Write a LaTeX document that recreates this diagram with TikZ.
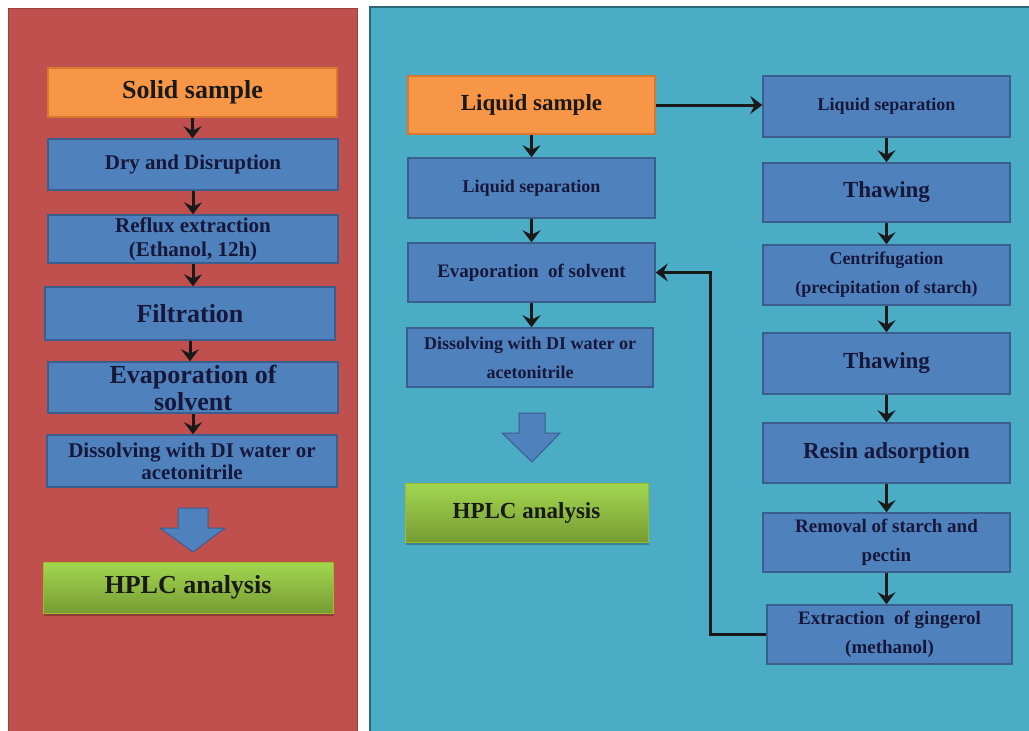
\documentclass[tikz,border=0pt]{standalone}
\usepackage{fontspec}
\setmainfont{Liberation Serif}
\usepackage{tikz}
\usetikzlibrary{arrows.meta,calc,shadows}
\definecolor{panelred}{HTML}{C0504D}
\definecolor{panelteal}{HTML}{4BACC6}
\definecolor{boxblue}{HTML}{4F81BD}
\definecolor{boxline}{HTML}{3A5F8E}
\definecolor{srcorange}{HTML}{F79646}
\definecolor{srcline}{HTML}{D8772E}
\definecolor{greentop}{HTML}{A2D750}
\definecolor{greenbot}{HTML}{779C33}
\definecolor{inkdark}{HTML}{17173A}
\tikzset{
  proc/.style={draw=boxline, fill=boxblue, line width=1.5pt, align=center,
               text=inkdark, inner sep=2pt},
  src/.style={draw=srcline, fill=srcorange, line width=1.5pt, align=center,
              text=black!90, inner sep=2pt},
  hplc/.style={draw=greenbot!70!yellow, top color=greentop, bottom color=greenbot,
               line width=0.8pt, align=center, text=black!90, inner sep=2pt,
               drop shadow={shadow xshift=1pt, shadow yshift=-3pt, fill=black, opacity=0.25}},
  flowarr/.style={-{Stealth[length=12pt,width=18pt,inset=4.5pt]}, line width=3pt, draw=black!90},
  bigarr/.style={fill=boxblue, draw=boxline, line width=1pt, line join=miter},
}

\begin{document}
\begin{tikzpicture}[x=1pt, y=-1pt]
  \useasboundingbox (0,0) rectangle (1029,731);
  \fill[white] (0,0) rectangle (1029,731);
  % LEFT: solid sample route
  \begin{scope}
    \draw[fill=panelred, draw=panelred!80!black, line width=1pt] (8,8) rectangle (357,740);
    \node[src, minimum width=289pt, minimum height=49pt, font=\bfseries\fontsize{26}{27}\selectfont]
      (lsolid) at (192.5,92.5) {Solid sample};
    \node[proc, minimum width=290pt, minimum height=51pt, font=\bfseries\fontsize{21}{22}\selectfont]
      (ldry) at (193,164.5) {Dry and Disruption};
    \node[proc, minimum width=290pt, minimum height=48pt, font=\bfseries\fontsize{21}{24}\selectfont]
      (lreflux) at (193,239) {Reflux extraction\\(Ethanol, 12h)};
    \node[proc, minimum width=290pt, minimum height=53pt, font=\bfseries\fontsize{26}{27}\selectfont]
      (lfilt) at (190,313.5) {Filtration};
    \node[proc, minimum width=290pt, minimum height=51pt, font=\bfseries\fontsize{26}{27}\selectfont]
      (levap) at (193,387.5) {Evaporation of\\solvent};
    \node[proc, minimum width=290pt, minimum height=52pt, font=\bfseries\fontsize{21}{22}\selectfont]
      (ldiss) at (192,461) {Dissolving with DI water or\\acetonitrile};
    \draw[bigarr] (178,508) -- (208,508) -- (208,528) -- (225,528) -- (193,552)
      -- (160,528) -- (178,528) -- cycle;
    \node[hplc, minimum width=290pt, minimum height=51pt, font=\bfseries\fontsize{26}{27}\selectfont]
      (lhplc) at (188,587.5) {HPLC analysis};
    \foreach \a/\b in {lsolid/ldry, ldry/lreflux, lreflux/lfilt, lfilt/levap, levap/ldiss}
      \draw[flowarr] (\a.south) -- (\a.south |- \b.north);
  \end{scope}
  % RIGHT: liquid sample route
  \begin{scope}
    \draw[fill=panelteal, draw=panelteal!60!black, line width=2pt] (370,7) rectangle (1040,740);
    \node[src, minimum width=247pt, minimum height=58pt, font=\bfseries\fontsize{23}{24}\selectfont]
      (rliquid) at (531.5,105) {Liquid sample};
    \node[proc, minimum width=247pt, minimum height=60pt, font=\bfseries\fontsize{18}{29}\selectfont]
      (rsepa) at (531.5,188) {Liquid separation};
    \node[proc, minimum width=247pt, minimum height=59pt, font=\bfseries\fontsize{19}{29}\selectfont]
      (revap) at (531.5,272.5) {Evaporation \ of solvent};
    \node[proc, minimum width=246pt, minimum height=59pt, font=\bfseries\fontsize{18}{29}\selectfont]
      (rdiss) at (530,357.5) {Dissolving with DI water or\\acetonitrile};
    \draw[bigarr] (519,413) -- (545,413) -- (545,433) -- (560,433) -- (532,462)
      -- (502,433) -- (519,433) -- cycle;
    \node[hplc, minimum width=243pt, minimum height=59pt, font=\bfseries\fontsize{23}{24}\selectfont]
      (rhplc) at (526.5,512.5) {HPLC analysis};
    % second column
    \node[proc, minimum width=247pt, minimum height=61pt, font=\bfseries\fontsize{18}{29}\selectfont]
      (rsepb) at (886.5,106.5) {Liquid separation};
    \node[proc, minimum width=247pt, minimum height=59pt, font=\bfseries\fontsize{23}{29}\selectfont]
      (rthawa) at (886.5,192.5) {Thawing};
    \node[proc, minimum width=247pt, minimum height=60pt, font=\bfseries\fontsize{18}{29}\selectfont]
      (rcent) at (886.5,275) {Centrifugation\\(precipitation of starch)};
    \node[proc, minimum width=247pt, minimum height=61pt, font=\bfseries\fontsize{23}{29}\selectfont]
      (rthawb) at (886.5,363.5) {Thawing};
    \node[proc, minimum width=247pt, minimum height=60pt, font=\bfseries\fontsize{23}{29}\selectfont]
      (rresin) at (886.5,453) {Resin adsorption};
    \node[proc, minimum width=247pt, minimum height=59pt, font=\bfseries\fontsize{19}{29}\selectfont]
      (rremov) at (886.5,542.5) {Removal of starch and\\pectin};
    \node[proc, minimum width=245pt, minimum height=59pt, font=\bfseries\fontsize{19}{29}\selectfont]
      (rextr) at (889.5,634.5) {Extraction \ of gingerol\\(methanol)};
    \foreach \a/\b in {rliquid/rsepa, rsepa/revap, revap/rdiss,
                       rsepb/rthawa, rthawa/rcent, rcent/rthawb, rthawb/rresin,
                       rresin/rremov, rremov/rextr}
      \draw[flowarr] (\a.south) -- (\a.south |- \b.north);
    \draw[flowarr] (rliquid.east) -- (rliquid.east -| rsepb.west);
    \draw[flowarr] (rextr.west) -- ++(-56,0) |- (revap.east);
  \end{scope}
\end{tikzpicture}
\end{document}
